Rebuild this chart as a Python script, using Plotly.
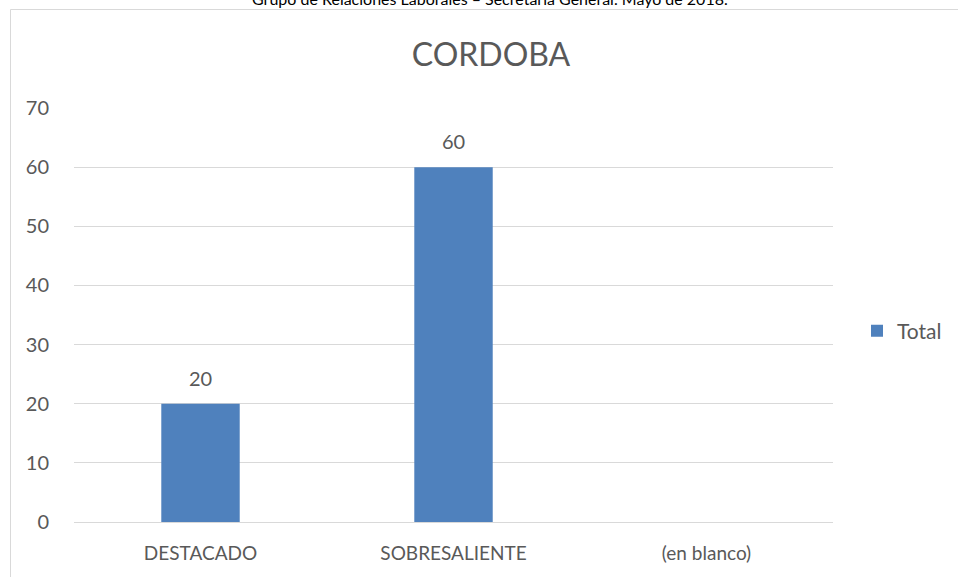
import plotly.graph_objects as go

categories = ["DESTACADO", "SOBRESALIENTE", "(en blanco)"]
values = [20, 60, None]
y_ticks = [0, 10, 20, 30, 40, 50, 60, 70]

L, R, T, B = 74, 125, 108, 55
W, H = 958, 577
pw, ph = W - L - R, H - T - B

def px(x):
    return (x - L) / pw

def py(y):
    return (H - B - y) / ph

FONT = "Lato, Open Sans, sans-serif"
GRAY = "#595959"

fig = go.Figure()
fig.add_trace(go.Bar(
    x=categories, y=values, name="Total",
    marker=dict(color="#4F81BD", line=dict(width=0)),
    hoverinfo="x+y",
))

annotations = [dict(text="Grupo de Relaciones Laborales – Secretaría General. Mayo de 2018.",
                    xref="paper", yref="paper", x=px(490), y=py(-1),
                    xanchor="center", yanchor="middle", showarrow=False,
                    font=dict(size=16, color="#000000", family=FONT))]
for c, v in zip(categories, values):
    if v is None:
        continue
    annotations.append(dict(x=c, y=v, xref="x", yref="y", text=str(v),
                            showarrow=False, yanchor="middle", yshift=26,
                            font=dict(size=20, color=GRAY, family=FONT)))

fig.update_layout(
    width=W, height=H,
    margin=dict(l=L, r=R, t=T, b=B),
    paper_bgcolor="white", plot_bgcolor="white",
    font=dict(family=FONT, color=GRAY),
    bargap=0.69,
    title=dict(text="CORDOBA", x=491 / W, xanchor="center", y=1 - 55 / H,
               yanchor="middle", xref="container", yref="container",
               font=dict(size=32, color=GRAY, family=FONT)),
    showlegend=True,
    legend=dict(x=857 / W, y=1 - 331 / H, xref="container", yref="container",
                xanchor="left", yanchor="middle",
                font=dict(size=21, color=GRAY, family=FONT),
                bgcolor="rgba(0,0,0,0)"),
    xaxis=dict(showgrid=False, showline=False, ticks="", zeroline=False,
               ticklabelstandoff=18,
               tickfont=dict(size=19, color=GRAY, family=FONT)),
    yaxis=dict(range=[0, 70], tickvals=y_ticks, showgrid=True,
               gridcolor="#D9D9D9", gridwidth=1, zeroline=True,
               zerolinecolor="#D9D9D9", zerolinewidth=1, showline=False,
               ticks="", ticklabelstandoff=24,
               tickfont=dict(size=20, color=GRAY, family=FONT)),
    shapes=[dict(type="rect", xref="paper", yref="paper",
                 x0=px(10.5), x1=px(1050), y0=py(600), y1=py(9.5),
                 line=dict(color="#D9D9D9", width=1), layer="below")],
    annotations=annotations,
)

fig.write_html("out.html",
               config={"displayModeBar": False},
               post_script="document.body.style.margin='0px';")
